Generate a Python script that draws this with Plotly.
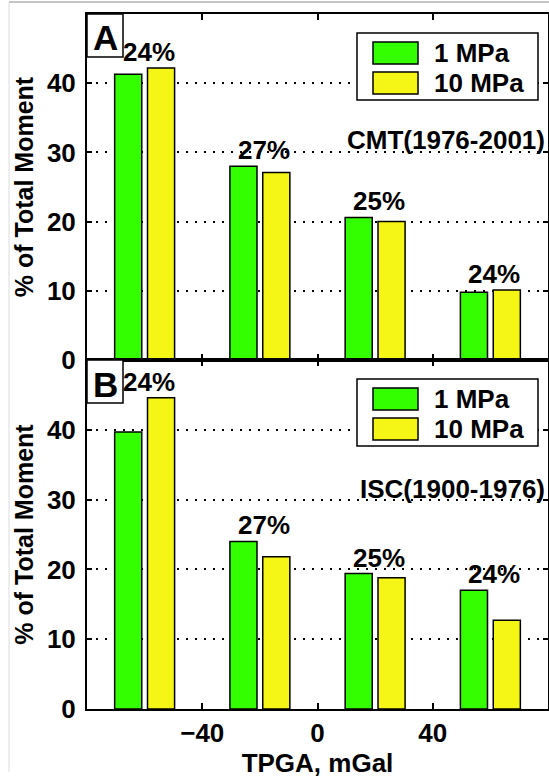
import plotly.graph_objects as go

# ---- data -------------------------------------------------------------
tpga_bins = [-60, -20, 20, 60]                 # TPGA bin centres, mGal
series_names = ["1 MPa", "10 MPa"]
series_colors = ["#33FF00", "#F5F516"]

cmt_1mpa = [41.3, 28.0, 20.6, 9.8]             # CMT (1976-2001)
cmt_10mpa = [42.2, 27.1, 20.0, 10.1]
isc_1mpa = [39.7, 24.0, 19.4, 17.0]            # ISC (1900-1976)
isc_10mpa = [44.6, 21.8, 18.8, 12.7]

bin_share = ["24%", "27%", "25%", "24%"]       # share of area in each bin
y_ticks = [0, 10, 20, 30, 40]
x_ticks = [-40, 0, 40]

# ---- page geometry (pixels) -------------------------------------------
W, H = 549, 781
LEFT, RIGHT = 87, 548
A_TOP, MID, B_BOT = 14, 360, 709
FONT = "Liberation Sans, Arial, Helvetica, sans-serif"
FS = 26


def fx(px):
    return px / W


def fy(py):
    return 1 - py / H


def bold(size=FS):
    return dict(family=FONT, size=size, color="black", weight="bold")


fig = go.Figure()

panels = [
    dict(xa="x", ya="y", top=A_TOP, vals=(cmt_1mpa, cmt_10mpa),
         tag="A", catalog="CMT(1976-2001)", cat_y=31.8),
    dict(xa="x2", ya="y2", top=MID, vals=(isc_1mpa, isc_10mpa),
         tag="B", catalog="ISC(1900-1976)", cat_y=31.5),
]

annotations = []
shapes = []

for p in panels:
    for name, color, vals in zip(series_names, series_colors, p["vals"]):
        fig.add_trace(go.Bar(
            x=tpga_bins, y=vals, name=name, xaxis=p["xa"], yaxis=p["ya"],
            marker=dict(color=color, line=dict(color="black", width=1.5)),
            showlegend=False,
        ))

    # percentage labels above each bin
    tops = [max(a, b) for a, b in zip(*p["vals"])]
    for xb, t, s in zip(tpga_bins, tops, bin_share):
        annotations.append(dict(
            x=xb, y=t, xref=p["xa"], yref=p["ya"], text=s, showarrow=False,
            yanchor="middle", yshift=16, xshift=4, font=bold(),
        ))

    # catalogue name
    annotations.append(dict(
        x=1.0, xref=p["xa"] + " domain", y=p["cat_y"], yref=p["ya"],
        text=p["catalog"], showarrow=False, xanchor="right", yanchor="middle",
        xshift=-1, font=bold(),
    ))

    T = p["top"]
    # panel letter box
    shapes.append(dict(type="rect", xref="paper", yref="paper",
                       x0=fx(LEFT), x1=fx(123), y0=fy(T + 43), y1=fy(T),
                       line=dict(color="black", width=1.5), fillcolor="white",
                       layer="above"))
    annotations.append(dict(
        x=fx(105), y=fy(T + 24), xref="paper", yref="paper", text=p["tag"],
        showarrow=False, xanchor="center", yanchor="middle", font=bold(35),
    ))

    # legend box with swatches
    shapes.append(dict(type="rect", xref="paper", yref="paper",
                       x0=fx(357), x1=fx(538), y0=fy(T + 86), y1=fy(T + 19),
                       line=dict(color="black", width=1.5), fillcolor="white",
                       layer="above"))
    for k, (name, color) in enumerate(zip(series_names, series_colors)):
        y_top = T + 28 + k * 30
        shapes.append(dict(type="rect", xref="paper", yref="paper",
                           x0=fx(373), x1=fx(418),
                           y0=fy(y_top + 22), y1=fy(y_top),
                           line=dict(color="black", width=1.5),
                           fillcolor=color, layer="above"))
        annotations.append(dict(
            x=fx(432), y=fy(y_top + 11), xref="paper", yref="paper",
            text=name, showarrow=False, xanchor="left", yanchor="middle",
            font=bold(),
        ))

# thin frame around the page
shapes.append(dict(type="line", xref="paper", yref="paper",
                   x0=fx(9), x1=1.0, y0=fy(2), y1=fy(2),
                   line=dict(color="#8a8a8a", width=1)))
shapes.append(dict(type="line", xref="paper", yref="paper",
                   x0=fx(9), x1=fx(9), y0=fy(2), y1=fy(772),
                   line=dict(color="#dcdcdc", width=1)))

common_x = dict(range=[-80, 80], tickvals=x_ticks, ticks="inside", ticklen=6,
                tickwidth=1.5, tickcolor="black", showline=True,
                linecolor="black", linewidth=2, mirror="ticks",
                showgrid=False, zeroline=False, tickfont=bold(),
                automargin=False)
common_y = dict(range=[0, 50], tickvals=y_ticks, ticks="inside", ticklen=5,
                tickwidth=1.5, tickcolor="black", showline=True,
                linecolor="black", linewidth=2, mirror="ticks",
                showgrid=True, gridcolor="black", gridwidth=1.8,
                griddash="2px,7px", zeroline=False, tickfont=bold(),
                ticklabelstandoff=4, automargin=False,
                title=dict(text="% of Total Moment", standoff=6,
                           font=bold(25)))

fig.update_layout(
    template="none",
    width=W, height=H,
    margin=dict(l=0, r=0, t=0, b=0, pad=0),
    paper_bgcolor="white", plot_bgcolor="white",
    barmode="group", bargap=0.43, bargroupgap=0.175,
    font=bold(),
    xaxis=dict(domain=[fx(LEFT), fx(RIGHT)], anchor="y",
               showticklabels=False, **common_x),
    yaxis=dict(domain=[fy(MID), fy(A_TOP)], anchor="x", **common_y),
    xaxis2=dict(domain=[fx(LEFT), fx(RIGHT)], anchor="y2",
                ticklabelstandoff=0,
                title=dict(text="TPGA, mGal", standoff=2, font=bold()),
                **common_x),
    yaxis2=dict(domain=[fy(B_BOT), fy(MID)], anchor="x2", **common_y),
    annotations=annotations,
    shapes=shapes,
    showlegend=False,
)

fig.write_html("out.html")
